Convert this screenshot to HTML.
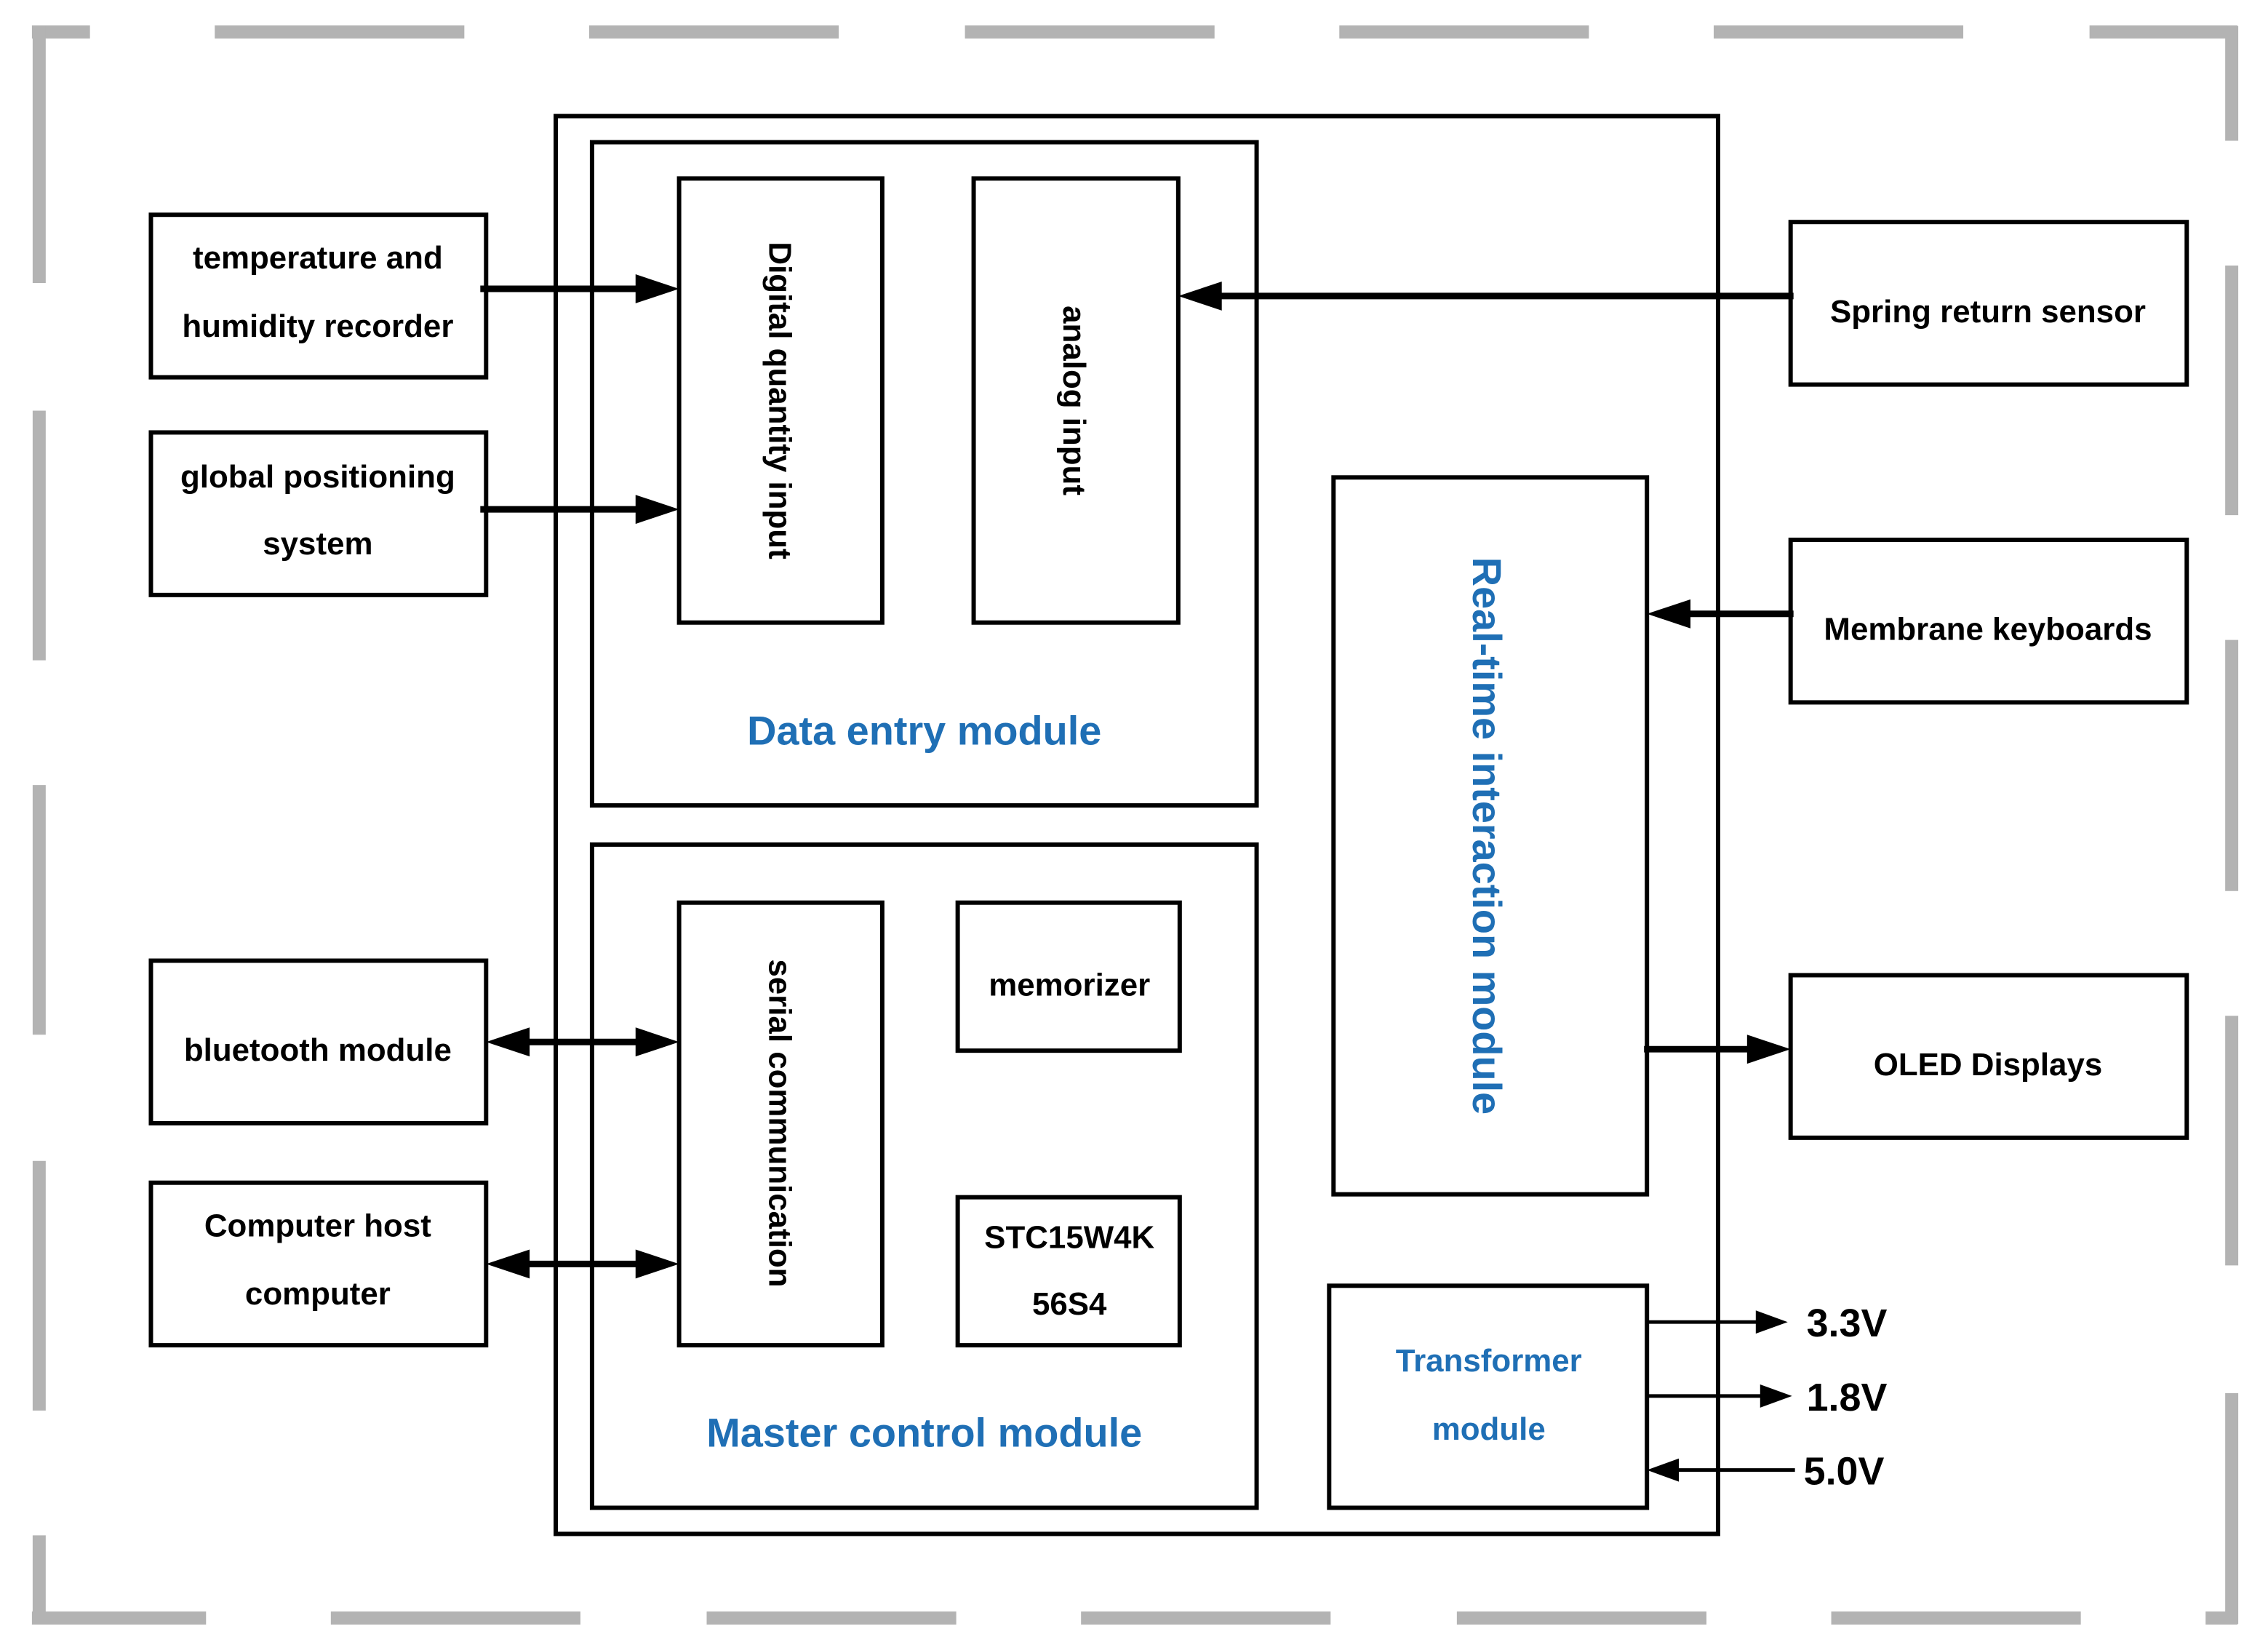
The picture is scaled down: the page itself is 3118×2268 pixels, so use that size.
<!DOCTYPE html>
<html><head><meta charset="utf-8"><style>
html,body{margin:0;padding:0;background:#fff;}
svg{display:block;}
text{font-family:"Liberation Sans","DejaVu Sans",sans-serif;}
.b{font-weight:bold;font-size:22px;fill:#000;}
.blue{fill:#1f6fb5;}
</style></head><body>
<svg width="3118" height="2268" viewBox="0 0 1563 1137" preserveAspectRatio="none" xmlns="http://www.w3.org/2000/svg">
<rect width="1563" height="1137" fill="#fff"/>
<g stroke="#b3b3b3" stroke-width="9" fill="none">
<line x1="22" y1="22" x2="62" y2="22"/><line x1="148" y1="22" x2="320" y2="22"/><line x1="406" y1="22" x2="578" y2="22"/><line x1="665" y1="22" x2="837" y2="22"/><line x1="923" y1="22" x2="1095" y2="22"/><line x1="1181" y1="22" x2="1353" y2="22"/><line x1="1440" y1="22" x2="1542" y2="22"/>
<line x1="27" y1="18" x2="27" y2="195"/><line x1="27" y1="283" x2="27" y2="455"/><line x1="27" y1="541" x2="27" y2="713"/><line x1="27" y1="800" x2="27" y2="972"/><line x1="27" y1="1058" x2="27" y2="1119"/>
<line x1="22" y1="1115" x2="142" y2="1115"/><line x1="228" y1="1115" x2="400" y2="1115"/><line x1="487" y1="1115" x2="659" y2="1115"/><line x1="745" y1="1115" x2="917" y2="1115"/><line x1="1004" y1="1115" x2="1176" y2="1115"/><line x1="1262" y1="1115" x2="1434" y2="1115"/><line x1="1520" y1="1115" x2="1542" y2="1115"/>
<line x1="1538" y1="18" x2="1538" y2="97"/><line x1="1538" y1="183" x2="1538" y2="355"/><line x1="1538" y1="441" x2="1538" y2="614"/><line x1="1538" y1="700" x2="1538" y2="872"/><line x1="1538" y1="960" x2="1538" y2="1119"/>
</g>
<g fill="none" stroke="#000" stroke-width="3">
<rect x="383" y="80" width="801" height="977"/>
<rect x="408" y="98" width="458" height="457"/>
<rect x="468" y="123" width="140" height="306"/>
<rect x="671" y="123" width="141" height="306"/>
<rect x="408" y="582" width="458" height="457"/>
<rect x="468" y="622" width="140" height="305"/>
<rect x="660" y="622" width="153" height="102"/>
<rect x="660" y="825" width="153" height="102"/>
<rect x="919" y="329" width="216" height="494"/>
<rect x="916" y="886" width="219" height="153"/>
<rect x="104" y="148" width="231" height="112"/>
<rect x="104" y="298" width="231" height="112"/>
<rect x="104" y="662" width="231" height="112"/>
<rect x="104" y="815" width="231" height="112"/>
<rect x="1234" y="153" width="273" height="112"/>
<rect x="1234" y="372" width="273" height="112"/>
<rect x="1234" y="672" width="273" height="112"/>
</g>
<g stroke="#000" stroke-width="4.5">
<line x1="331" y1="199" x2="445" y2="199"/>
<line x1="331" y1="351" x2="445" y2="351"/>
<line x1="358" y1="718" x2="445" y2="718"/>
<line x1="358" y1="871" x2="445" y2="871"/>
<line x1="1236" y1="204" x2="838" y2="204"/>
<line x1="1236" y1="423" x2="1162" y2="423"/>
<line x1="1133" y1="723" x2="1208" y2="723"/>
</g>
<g stroke="#000" stroke-width="2.5">
<line x1="1135" y1="911" x2="1215" y2="911"/>
<line x1="1135" y1="962" x2="1218" y2="962"/>
<line x1="1237" y1="1013" x2="1155" y2="1013"/>
</g>
<g fill="#000">
<polygon points="468,199 438,189 438,209"/>
<polygon points="468,351 438,341 438,361"/>
<polygon points="468,718 438,708 438,728"/>
<polygon points="335,718 365,708 365,728"/>
<polygon points="468,871 438,861 438,881"/>
<polygon points="335,871 365,861 365,881"/>
<polygon points="812,204 842,194 842,214"/>
<polygon points="1135,423 1165,413 1165,433"/>
<polygon points="1234,723 1204,713 1204,733"/>
<polygon points="1232,911 1210,903 1210,919"/>
<polygon points="1235,962 1213,954 1213,970"/>
<polygon points="1135,1013 1157,1005 1157,1021"/>
</g>
<g class="b" text-anchor="middle">
<text x="219" y="185">temperature and</text>
<text x="219" y="232">humidity recorder</text>
<text x="219" y="336">global positioning</text>
<text x="219" y="382">system</text>
<text x="219" y="731">bluetooth module</text>
<text x="219" y="852">Computer host</text>
<text x="219" y="899">computer</text>
<text x="1370" y="222">Spring return sensor</text>
<text x="1370" y="441">Membrane keyboards</text>
<text x="1370" y="741">OLED Displays</text>
<text x="737" y="686">memorizer</text>
<text x="737" y="860">STC15W4K</text>
<text x="737" y="906">56S4</text>
<text transform="translate(530,276) rotate(90)">Digital quantity input</text>
<text transform="translate(733,276) rotate(90)">analog input</text>
<text transform="translate(530,774) rotate(90)">serial communication</text>
</g>
<g class="b" style="font-size:27px">
<text x="1245" y="921">3.3V</text>
<text x="1245" y="972">1.8V</text>
<text x="1243" y="1023">5.0V</text>
</g>
<g class="blue" text-anchor="middle" style="font-size:28px;font-weight:bold">
<text x="637" y="513">Data entry module</text>
<text x="637" y="997">Master control module</text>
<text transform="translate(1015,576) rotate(90)">Real-time interaction module</text>
</g>
<g class="blue" text-anchor="middle" style="font-size:22px;font-weight:bold">
<text x="1026" y="945">Transformer</text>
<text x="1026" y="992">module</text>
</g>
</svg>
</body></html>
